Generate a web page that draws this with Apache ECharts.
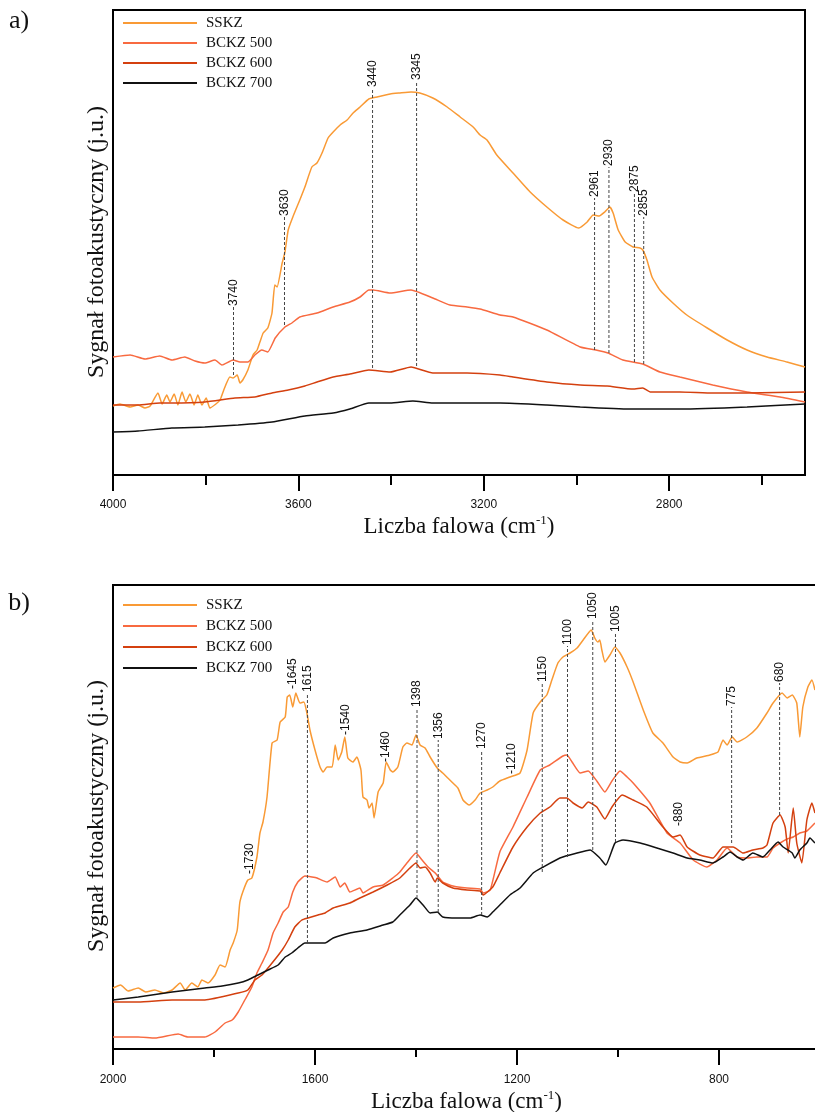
<!DOCTYPE html>
<html>
<head>
<meta charset="utf-8">
<script src="https://cdn.jsdelivr.net/npm/echarts@6/dist/echarts.min.js"></script>
<style>
  html, body { margin: 0; padding: 0; background: #fff; }
  #chart { width: 815px; height: 1112px; }
</style>
</head>
<body>
<div id="chart"></div>
<script>
// Photoacoustic spectra: a) 4000–2500 cm-1, b) 2000–600 cm-1
const seriesNames = ['SSKZ', 'BCKZ 500', 'BCKZ 600', 'BCKZ 700'];
const seriesColors = ['#F99A35', '#F86A40', '#D4400F', '#111111'];

// panel a ticks
const ticksMajorA = [4000, 3600, 3200, 2800];
const ticksMinorA = [3800, 3400, 3000, 2600];
// panel b ticks
const ticksMajorB = [2000, 1600, 1200, 800];
const ticksMinorB = [1800, 1400, 1000];

// panel a: [wavenumber, signal]
const sskzA = [[4000,69],[3985,71],[3963,68],[3946,70],[3931,67],[3920,69],[3903,82],[3894,71],[3884,80],[3877,73],[3868,81],[3860,70],[3851,83],[3843,73],[3834,81],[3825,70],[3817,80],[3808,70],[3799,77],[3791,67],[3778,71],[3769,75],[3761,85],[3748,98],[3741,97],[3732,100],[3726,92],[3720,95],[3709,105],[3698,120],[3689,125],[3683,133],[3676,142],[3666,147],[3657,162],[3651,190],[3646,188],[3635,212],[3629,223],[3622,245],[3612,258],[3597,275],[3586,288],[3571,308],[3560,312],[3549,322],[3536,337],[3525,343],[3510,350],[3495,355],[3482,362],[3467,368],[3448,376],[3430,378],[3402,381],[3381,382],[3357,383],[3338,382],[3310,377],[3279,368],[3251,358],[3223,348],[3208,340],[3193,335],[3172,320],[3137,302],[3100,283],[3064,268],[3029,255],[2995,247],[2977,253],[2964,260],[2951,259],[2939,263],[2928,268],[2921,262],[2910,245],[2895,233],[2878,228],[2863,227],[2857,225],[2848,215],[2837,198],[2820,185],[2792,172],[2762,160],[2718,147],[2675,135],[2632,125],[2589,118],[2546,113],[2507,108]];
const bckz500A = [[4000,118],[3963,120],[3931,116],[3899,119],[3873,115],[3845,118],[3823,114],[3802,112],[3780,115],[3765,110],[3741,115],[3726,113],[3709,113],[3694,120],[3679,125],[3666,123],[3650,137],[3629,148],[3614,152],[3597,158],[3560,162],[3525,168],[3489,173],[3467,178],[3448,185],[3439,185],[3402,182],[3357,185],[3310,177],[3273,170],[3236,168],[3208,166],[3165,160],[3137,158],[3064,145],[2992,128],[2958,125],[2932,122],[2900,115],[2857,111],[2820,103],[2777,98],[2706,90],[2632,83],[2561,78],[2507,73]];
const bckz600A = [[4000,70],[3946,70],[3899,72],[3873,72],[3802,73],[3737,77],[3694,78],[3657,82],[3622,85],[3586,89],[3560,93],[3525,98],[3489,101],[3448,105],[3402,103],[3357,108],[3310,102],[3236,102],[3165,100],[3137,98],[3064,93],[2992,90],[2934,89],[2878,86],[2857,87],[2841,83],[2777,83],[2706,82],[2632,82],[2507,83]];
const bckz700A = [[4000,43],[3946,44],[3873,47],[3802,48],[3730,50],[3657,53],[3586,59],[3525,62],[3489,66],[3448,72],[3402,72],[3353,74],[3310,72],[3236,72],[3165,72],[3064,70],[2992,68],[2885,66],[2777,66],[2632,68],[2507,71]];

// panel b: [wavenumber, signal]
const sskzB = [[2000,61],[1985,64],[1970,58],[1950,61],[1935,57],[1917,59],[1900,56],[1883,59],[1867,66],[1857,59],[1844,66],[1832,62],[1824,69],[1812,66],[1798,74],[1788,84],[1778,82],[1768,99],[1762,106],[1754,119],[1749,146],[1743,157],[1733,169],[1725,171],[1715,192],[1709,216],[1703,227],[1695,252],[1685,306],[1675,309],[1669,327],[1659,332],[1655,352],[1650,354],[1644,342],[1638,356],[1630,346],[1622,347],[1616,336],[1610,319],[1600,299],[1590,282],[1584,277],[1576,282],[1566,282],[1560,304],[1554,289],[1547,297],[1541,312],[1535,291],[1525,287],[1517,292],[1509,279],[1505,252],[1497,249],[1493,241],[1487,246],[1483,231],[1475,257],[1465,266],[1459,287],[1451,279],[1446,277],[1436,282],[1426,302],[1418,306],[1408,304],[1400,314],[1392,304],[1382,301],[1372,292],[1358,281],[1347,276],[1337,271],[1327,266],[1317,261],[1307,249],[1295,244],[1283,249],[1273,256],[1259,259],[1248,262],[1234,268],[1214,272],[1194,276],[1180,299],[1168,336],[1154,347],[1141,354],[1131,369],[1119,386],[1109,392],[1095,396],[1081,401],[1069,409],[1053,419],[1046,411],[1040,407],[1036,409],[1032,399],[1026,387],[1016,394],[1006,402],[996,396],[982,382],[970,367],[950,339],[931,316],[911,306],[891,292],[877,287],[863,286],[844,291],[818,294],[802,297],[792,309],[784,304],[774,312],[764,307],[745,312],[725,321],[705,336],[693,346],[675,356],[665,351],[655,354],[646,346],[640,312],[634,342],[624,362],[616,369],[610,359]];
const bckz500B = [[2000,12],[1950,12],[1917,11],[1871,15],[1852,12],[1818,12],[1798,17],[1778,26],[1764,29],[1752,37],[1739,49],[1725,62],[1715,76],[1705,86],[1693,99],[1683,116],[1673,126],[1663,137],[1653,142],[1644,157],[1634,167],[1620,173],[1606,172],[1596,171],[1576,167],[1560,172],[1550,162],[1541,166],[1531,157],[1511,161],[1505,156],[1485,162],[1465,164],[1446,171],[1432,177],[1418,186],[1400,196],[1388,189],[1376,182],[1362,176],[1347,167],[1327,163],[1299,161],[1273,160],[1267,156],[1253,159],[1234,197],[1208,222],[1180,252],[1154,279],[1135,284],[1109,293],[1101,294],[1091,287],[1075,276],[1059,278],[1042,268],[1026,257],[1012,268],[996,278],[982,272],[970,266],[937,246],[903,216],[877,206],[851,189],[824,182],[804,189],[784,201],[764,192],[745,191],[725,192],[705,192],[693,201],[679,206],[665,210],[653,212],[640,216],[626,218],[610,226]];
const bckz600B = [[2000,47],[1950,47],[1883,49],[1818,49],[1752,56],[1733,59],[1719,69],[1705,74],[1685,86],[1665,99],[1653,109],[1640,122],[1626,129],[1614,131],[1594,134],[1580,136],[1564,141],[1531,146],[1511,151],[1485,157],[1457,164],[1432,171],[1412,181],[1400,186],[1392,181],[1382,182],[1372,176],[1362,167],[1358,171],[1347,166],[1327,161],[1299,159],[1273,158],[1267,154],[1248,162],[1234,176],[1208,202],[1180,222],[1154,236],[1135,242],[1115,251],[1101,251],[1089,246],[1071,241],[1059,247],[1042,242],[1026,230],[1012,242],[992,254],[970,249],[943,242],[911,222],[891,212],[877,214],[863,202],[838,194],[812,191],[792,202],[772,202],[752,196],[733,199],[713,201],[705,204],[693,226],[679,234],[669,222],[663,196],[653,241],[646,206],[636,186],[626,229],[616,246],[610,236]];
const bckz700B = [[2000,49],[1950,52],[1883,57],[1818,61],[1784,63],[1752,66],[1733,69],[1713,74],[1693,79],[1673,84],[1659,92],[1646,96],[1634,101],[1620,106],[1600,106],[1580,106],[1564,111],[1531,116],[1497,119],[1465,124],[1446,127],[1432,134],[1412,144],[1400,151],[1386,144],[1372,136],[1358,137],[1347,132],[1319,131],[1293,131],[1273,134],[1259,132],[1248,137],[1234,144],[1214,154],[1194,161],[1168,176],[1148,182],[1115,191],[1081,196],[1055,199],[1036,191],[1024,184],[1006,206],[990,209],[956,206],[923,201],[891,196],[863,191],[838,189],[812,186],[792,192],[778,197],[764,192],[752,189],[733,196],[713,192],[699,199],[683,207],[673,202],[655,196],[650,191],[640,199],[626,206],[620,211],[610,206]];

// band markers: position, lower and upper end of the guide, label
const peakWnA = [3740, 3630, 3440, 3345, 2961, 2930, 2875, 2855];
const peakLowA = [100, 150, 107, 109, 125, 122, 113, 111];
const peakHighA = [168, 258, 387, 394, 277, 308, 282, 258];
const peakTextA = ['3740', '3630', '3440', '3345', '2961', '2930', '2875', '2855'];

const peakWnB = [1730, 1645, 1615, 1540, 1460, 1398, 1356, 1270, 1210, 1150, 1100, 1050, 1005, 880, 775, 680];
const peakLowB = [174, 359, 106, 313, 286, 151, 137, 134, 274, 177, 192, 199, 207, 222, 206, 234];
const peakHighB = [174, 359, 356, 313, 286, 341, 309, 299, 274, 366, 403, 429, 416, 222, 342, 366];
const peakTextB = ['-1730', '-1645', '1615', '-1540', '-1460', '1398', '1356', '1270', '-1210', '1150', '1100', '1050', '1005', '-880', '775', '680'];

const serif = '"Liberation Serif", "Times New Roman", serif';
const sans = '"Liberation Sans", Arial, sans-serif';

function peakRenderer(texts) {
  return function (params, api) {
    const x = api.value(0), lo = api.value(1), hi = api.value(2);
    const pLo = api.coord([x, lo]);
    const pHi = api.coord([x, hi]);
    const children = [];
    if (hi > lo) {
      children.push({
        type: 'line',
        shape: { x1: pLo[0], y1: pLo[1], x2: pHi[0], y2: pHi[1] },
        style: { stroke: '#444', lineWidth: 1, lineDash: [3, 2] }
      });
    }
    children.push({
      type: 'text', x: pHi[0], y: pHi[1] - 1, rotation: Math.PI / 2,
      style: { text: texts[params.dataIndex], font: '12px ' + sans, fill: '#111', align: 'left', verticalAlign: 'middle' }
    });
    return { type: 'group', children: children };
  };
}

function xAxisPair(grid, range, major, minor, majorLen, minorLen, labelMargin, nameGap) {
  const base = {
    gridIndex: grid, type: 'value', inverse: true, min: range[0], max: range[1], position: 'bottom',
    axisLine: { show: false }, splitLine: { show: false }
  };
  return [
    Object.assign({}, base, {
      axisTick: { customValues: major, length: majorLen, lineStyle: { color: '#000', width: 2 } },
      axisLabel: {
        customValues: major, margin: labelMargin, fontSize: 12, fontFamily: sans, color: '#111',
        formatter: function (v) { return String(v); }
      },
      name: '{t|Liczba falowa (cm}{s|-1}{t|)}', nameLocation: 'middle', nameGap: nameGap,
      nameTextStyle: {
        rich: {
          t: { fontFamily: serif, fontSize: 23, color: '#111', lineHeight: 26 },
          s: { fontFamily: serif, fontSize: 13, color: '#111', lineHeight: 14, verticalAlign: 'top' }
        }
      }
    }),
    Object.assign({}, base, {
      axisTick: { customValues: minor, length: minorLen, lineStyle: { color: '#000', width: 2 } },
      axisLabel: { show: false }
    })
  ];
}

function lineSeries(name, color, data, xi, yi) {
  return {
    name: name, type: 'line', xAxisIndex: xi, yAxisIndex: yi, data: data,
    showSymbol: false, symbol: 'none', smooth: 0.15,
    color: color, lineStyle: { color: color, width: 1.5 }, itemStyle: { color: color }
  };
}

const legendBase = {
  data: seriesNames, orient: 'vertical', left: 118, itemWidth: 74, itemHeight: 2, icon: 'rect',
  selectedMode: false,
  textStyle: { fontFamily: serif, fontSize: 15, color: '#111', lineHeight: 16, padding: [0, 0, 0, 4] }
};

const chart = echarts.init(document.getElementById('chart'), null, { renderer: 'canvas' });
chart.setOption({
  animation: false,
  backgroundColor: '#fff',
  grid: [
    { left: 113, top: 10, width: 692, height: 465, show: true, borderColor: '#000', borderWidth: 2,
      backgroundColor: 'transparent', containLabel: false, outerBoundsMode: 'none' },
    { left: 113, top: 585, width: 707, height: 464, show: true, borderColor: '#000', borderWidth: 2,
      backgroundColor: 'transparent', containLabel: false, outerBoundsMode: 'none' }
  ],
  legend: [
    Object.assign({}, legendBase, { top: 10, itemGap: 4 }),
    Object.assign({}, legendBase, { top: 592, itemGap: 5 })
  ],
  xAxis: xAxisPair(0, [2507, 4000], ticksMajorA, ticksMinorA, 16, 10, 24, 39)
    .concat(xAxisPair(1, [600, 2000], ticksMajorB, ticksMinorB, 16, 8, 25, 40)),
  yAxis: [
    { gridIndex: 0, type: 'value', min: 0, max: 465, show: false },
    { gridIndex: 1, type: 'value', min: 0, max: 464, show: false }
  ],
  graphic: [
    { type: 'text', x: 19, y: 21, style: { text: 'a)', font: '26px ' + serif, fill: '#111', align: 'center', verticalAlign: 'middle' } },
    { type: 'text', x: 19, y: 603, style: { text: 'b)', font: '26px ' + serif, fill: '#111', align: 'center', verticalAlign: 'middle' } },
    { type: 'text', x: 97, y: 242, rotation: Math.PI / 2, style: { text: 'Sygnał fotoakustyczny (j.u.)', font: '24px ' + serif, fill: '#111', align: 'center', verticalAlign: 'middle' } },
    { type: 'text', x: 97, y: 816, rotation: Math.PI / 2, style: { text: 'Sygnał fotoakustyczny (j.u.)', font: '24px ' + serif, fill: '#111', align: 'center', verticalAlign: 'middle' } }
  ],
  series: [
    lineSeries(seriesNames[0], seriesColors[0], sskzA, 0, 0),
    lineSeries(seriesNames[1], seriesColors[1], bckz500A, 0, 0),
    lineSeries(seriesNames[2], seriesColors[2], bckz600A, 0, 0),
    lineSeries(seriesNames[3], seriesColors[3], bckz700A, 0, 0),
    lineSeries(seriesNames[0], seriesColors[0], sskzB, 2, 1),
    lineSeries(seriesNames[1], seriesColors[1], bckz500B, 2, 1),
    lineSeries(seriesNames[2], seriesColors[2], bckz600B, 2, 1),
    lineSeries(seriesNames[3], seriesColors[3], bckz700B, 2, 1),
    {
      type: 'custom', xAxisIndex: 0, yAxisIndex: 0, z: 5,
      data: peakWnA.map((w, i) => [w, peakLowA[i], peakHighA[i]]),
      encode: { x: 0, y: [1, 2] },
      renderItem: peakRenderer(peakTextA)
    },
    {
      type: 'custom', xAxisIndex: 2, yAxisIndex: 1, z: 5,
      data: peakWnB.map((w, i) => [w, peakLowB[i], peakHighB[i]]),
      encode: { x: 0, y: [1, 2] },
      renderItem: peakRenderer(peakTextB)
    }
  ]
});
</script>
</body>
</html>
